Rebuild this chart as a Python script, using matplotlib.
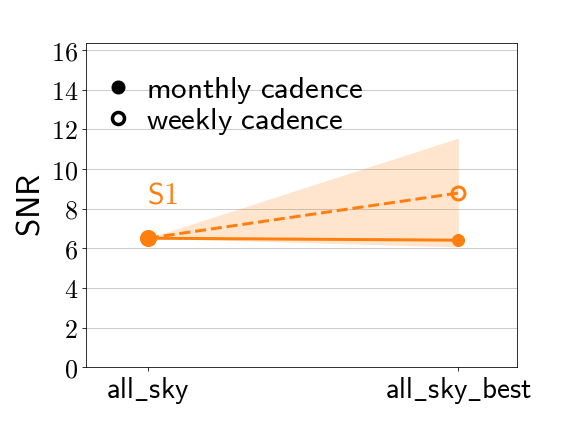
import numpy as np
import matplotlib
matplotlib.use("Agg")
import matplotlib.pyplot as plt
from matplotlib.lines import Line2D

plt.rcParams['mathtext.fontset'] = 'cm'

# values
scenarios = ["all_sky", "all_sky_best"]
snr_monthly = [6.51, 6.41]
snr_weekly = [6.51, 8.79]
band_low = [6.51, 6.07]
band_high = [6.51, 11.56]
yticks = [0, 2, 4, 6, 8, 10, 12, 14, 16]

col = "#ff7f0e"
x = np.arange(len(scenarios))

fig = plt.figure(figsize=(8, 6), dpi=72)
ax = fig.add_axes([0.149, 0.150, 0.749, 0.750])

ax.fill_between(x, band_low, band_high, color=col, alpha=0.2, lw=0, zorder=1)
ax.plot(x, snr_monthly, "-", color=col, lw=3, marker="o", ms=12, zorder=3)
ax.plot(x, snr_weekly, "--", color=col, lw=3, marker="o", ms=13,
        mfc="none", mew=3, zorder=3)
ax.plot(x[:1], snr_monthly[:1], "o", color=col, ms=16, zorder=4)

ax.text(-0.003, 8.25, r"$\mathsf{S1}$", color=col, fontsize=30, ha="left")

ax.set_xlim(-0.2, 1.19)
ax.set_ylim(0, 16.35)
ax.set_xticks(x)
ax.set_xticklabels([r"$\mathsf{" + s.replace("_", r"\_") + "}$" for s in scenarios],
                   fontsize=29)
ax.set_yticks(yticks)
ax.set_yticklabels([f"${v}$" for v in yticks], fontsize=26)
ax.set_ylabel(r"$\mathsf{SNR}$", fontsize=33, labelpad=4)
ax.grid(axis="y", color="#cccccc", lw=1)
ax.set_axisbelow(True)
ax.tick_params(length=4, width=0.8, pad=4)

handles = [
    Line2D([], [], ls="none", marker="o", color="black", ms=13),
    Line2D([], [], ls="none", marker="o", color="black", ms=12, mfc="none", mew=3.5),
]
ax.legend(handles, [r"$\mathsf{monthly\ cadence}$", r"$\mathsf{weekly\ cadence}$"],
          loc="upper left", bbox_to_anchor=(-0.0255, 0.988), frameon=False,
          fontsize=31, handletextpad=0.4, labelspacing=0.0, handlelength=1.0)

fig.savefig("out.png", dpi=72)
